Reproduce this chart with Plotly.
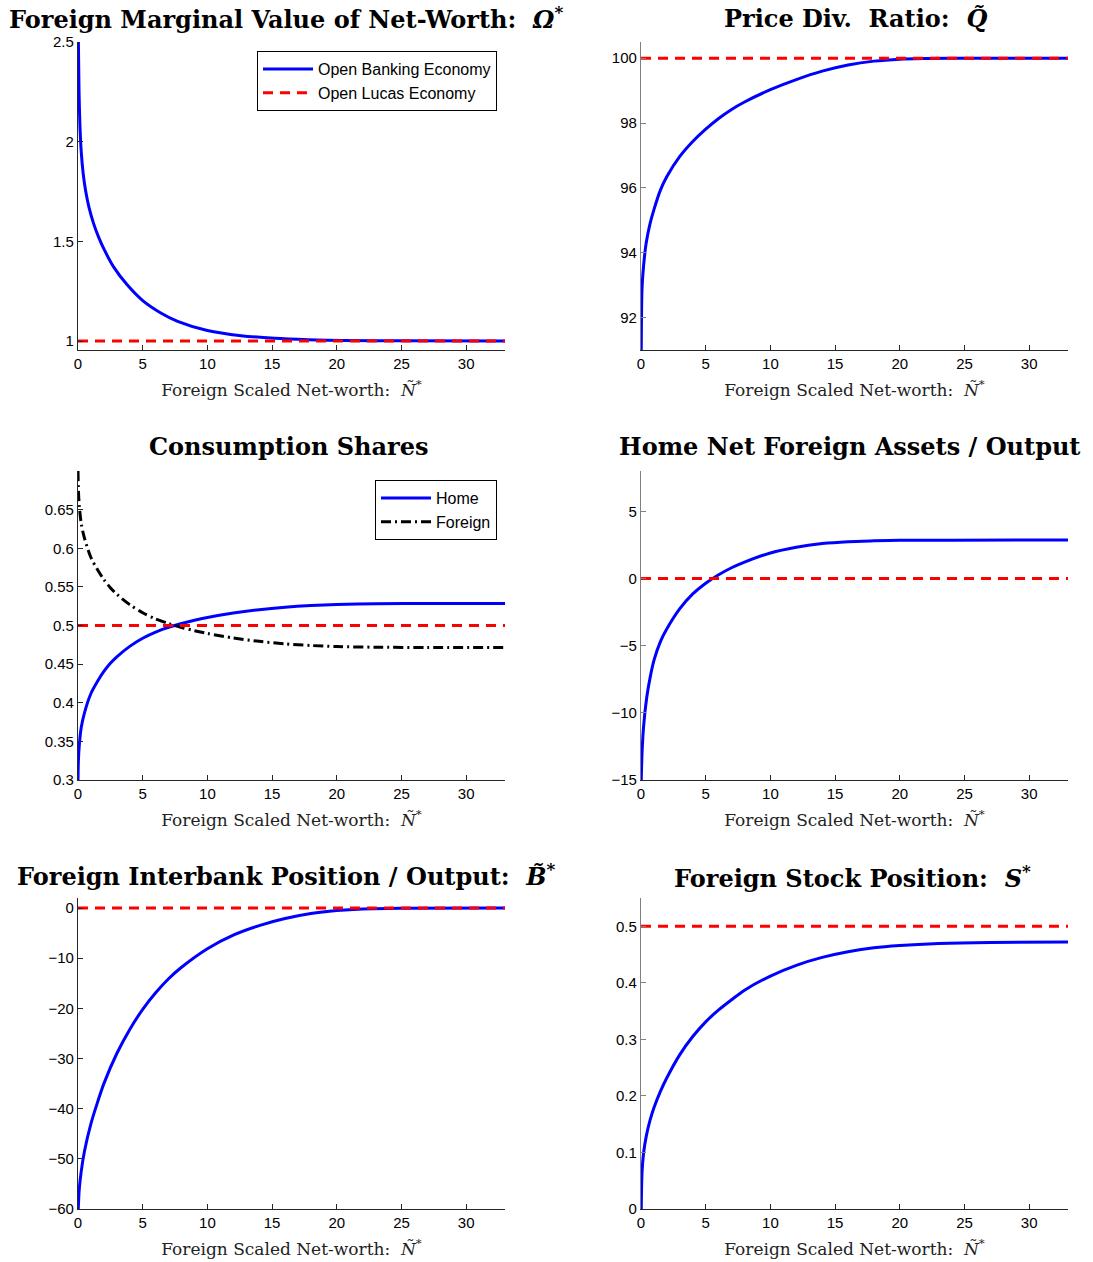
import plotly.graph_objects as go

# ---------------- data ----------------
x_range_max = 33
x_ticks = [0, 5, 10, 15, 20, 25, 30]

# Panel 1: Foreign marginal value of net-worth
omega_x = [0.03, 0.08, 0.15, 0.25, 0.4, 0.6, 0.85, 1.2, 1.6, 2.0, 2.75, 3.8, 5.0, 6.4, 7.7, 10.0, 12.6, 15.2, 17.8, 20.4, 25.0, 33.0]
omega_y = [2.5, 2.25, 2.08, 1.95, 1.84, 1.75, 1.67, 1.59, 1.52, 1.462, 1.372, 1.282, 1.203, 1.141, 1.099, 1.053, 1.027, 1.014, 1.007, 1.003, 1.001, 1.0]
omega_lucas = 1.0

# Panel 2: Price dividend ratio
q_x = [0.02, 0.08, 0.2, 0.4, 0.7, 1.0, 1.5, 2.0, 3.0, 4.0, 5.0, 6.0, 7.0, 8.0, 10.0, 12.0, 14.0, 16.0, 18.0, 20.0, 22.0, 25.0, 33.0]
q_y = [91.0, 92.9, 93.6, 94.3, 94.9, 95.33, 95.93, 96.35, 96.97, 97.43, 97.81, 98.14, 98.42, 98.65, 99.03, 99.34, 99.60, 99.79, 99.91, 99.97, 99.99, 100.0, 100.0]
q_lucas = 100.0

# Panel 3: Consumption shares
c_x = [0.0, 0.03, 0.1, 0.25, 0.5, 1.0, 1.5, 2.0, 2.5, 3.0, 4.0, 5.0, 6.0, 7.0, 8.0, 9.0, 10.0, 12.0, 14.0, 16.0, 18.0, 20.0, 23.0, 27.0, 33.0]
home_y = [0.300, 0.325, 0.345, 0.368, 0.387, 0.412, 0.4275, 0.4405, 0.451, 0.4595, 0.473, 0.4835, 0.4915, 0.4975, 0.5025, 0.5067, 0.5103, 0.5161, 0.5205, 0.5237, 0.5259, 0.5273, 0.5281, 0.5285, 0.5286]
foreign_y = [0.700, 0.675, 0.655, 0.632, 0.613, 0.588, 0.5725, 0.5595, 0.549, 0.5405, 0.527, 0.5165, 0.5085, 0.5025, 0.4975, 0.4933, 0.4897, 0.4839, 0.4795, 0.4763, 0.4741, 0.4727, 0.4719, 0.4715, 0.4714]
c_lucas = 0.5

# Panel 4: Home net foreign assets / output
nfa_x = [0.02, 0.08, 0.2, 0.45, 0.7, 1.0, 1.5, 2.0, 3.0, 4.0, 5.0, 6.0, 7.0, 8.0, 10.0, 12.0, 14.0, 16.0, 18.0, 20.0, 24.0, 33.0]
nfa_y = [-15.0, -13.0, -11.0, -8.8, -7.4, -6.1, -4.7, -3.75, -2.25, -1.15, -0.35, 0.28, 0.8, 1.22, 1.9, 2.33, 2.6, 2.74, 2.8, 2.84, 2.85, 2.86]
nfa_lucas = 0.0

# Panel 5: Foreign interbank position / output
b_x = [0.02, 0.1, 0.25, 0.5, 1.0, 1.5, 2.0, 3.0, 4.0, 5.0, 6.0, 7.0, 8.0, 10.0, 12.0, 14.0, 16.0, 18.0, 20.0, 22.0, 25.0, 33.0]
b_y = [-60.0, -56.0, -52.5, -48.5, -43.0, -38.8, -35.0, -29.0, -24.2, -20.2, -16.9, -14.1, -11.8, -8.1, -5.4, -3.5, -2.1, -1.1, -0.5, -0.17, -0.04, 0.0]
b_lucas = 0.0

# Panel 6: Foreign stock position
s_x = [0.02, 0.08, 0.2, 0.4, 0.7, 1.0, 1.5, 2.0, 3.0, 4.0, 5.0, 6.0, 7.0, 8.0, 10.0, 12.0, 14.0, 16.0, 18.0, 20.0, 23.0, 27.0, 33.0]
s_y = [0.0, 0.065, 0.099, 0.128, 0.157, 0.179, 0.208, 0.232, 0.273, 0.305, 0.331, 0.352, 0.370, 0.387, 0.412, 0.431, 0.445, 0.455, 0.462, 0.466, 0.4695, 0.4715, 0.472]
s_lucas = 0.5

titles = [
    "Foreign Marginal Value of Net-Worth:  <i>Ω</i><sup>*</sup>",
    "Price Div.  Ratio:  <i>Q̃</i>",
    "Consumption Shares",
    "Home Net Foreign Assets / Output",
    "Foreign Interbank Position / Output:  <i>B̃</i><sup>*</sup>",
    "Foreign Stock Position:  <i>S</i><sup>*</sup>",
]
xlabel = "Foreign Scaled Net-worth:  <i>Ñ</i><sup>*</sup>"

y_ranges = [[0.955, 2.5], [91.0, 100.5], [0.3, 0.7], [-15, 8], [-60, 2], [0, 0.55]]
y_ticks = [
    [1, 1.5, 2, 2.5],
    [92, 94, 96, 98, 100],
    [0.3, 0.35, 0.4, 0.45, 0.5, 0.55, 0.6, 0.65],
    [-15, -10, -5, 0, 5],
    [-60, -50, -40, -30, -20, -10, 0],
    [0, 0.1, 0.2, 0.3, 0.4, 0.5],
]

# ---------------- layout geometry ----------------
W, H = 1093, 1262
col_px = [(78, 505), (641, 1068)]
row_px = [(42, 350), (471, 780), (898, 1209)]

BLUE = "#0000ff"
RED = "#ff0000"
SANS = "Liberation Sans, Arial, sans-serif"
TICKFONT = dict(family=SANS, size=15, color="#000")
SERIF = "DejaVu Serif, serif"

fig = go.Figure()

series = [(omega_x, omega_y), (q_x, q_y), (c_x, home_y), (nfa_x, nfa_y), (b_x, b_y), (s_x, s_y)]
lucas = [omega_lucas, q_lucas, c_lucas, nfa_lucas, b_lucas, s_lucas]

for i in range(6):
    r, c = divmod(i, 2)
    sfx = "" if i == 0 else str(i + 1)
    xa, ya = "x" + sfx, "y" + sfx
    x0, x1 = col_px[c]
    y0, y1 = row_px[r]
    axcol = "#808080" if c == 1 else "#262626"
    fig.layout["xaxis" + sfx] = dict(
        domain=[x0 / W, x1 / W], anchor=ya, range=[0, x_range_max],
        tickvals=x_ticks, ticks="inside", ticklen=5, tickcolor="#262626",
        showline=True, linecolor="#262626", linewidth=1.3, showgrid=False,
        zeroline=False, tickfont=TICKFONT, automargin=False,
        title=dict(text=xlabel, font=dict(family=SERIF, size=17, color="#222"), standoff=12),
    )
    fig.layout["yaxis" + sfx] = dict(
        domain=[1 - y1 / H, 1 - y0 / H], anchor=xa, range=y_ranges[i],
        tickvals=y_ticks[i], ticks="inside", ticklen=5, tickcolor=axcol,
        showline=True, linecolor=axcol, linewidth=1.3, showgrid=False,
        zeroline=False, tickfont=TICKFONT, automargin=False,
    )
    sx, sy = series[i]
    fig.add_trace(go.Scatter(
        x=sx, y=sy, mode="lines",
        line=dict(color=BLUE, width=3, shape="spline", smoothing=0.8),
        name=("Open Banking Economy" if i == 0 else "Home"),
        showlegend=(i in (0, 2)), legend=("legend" if i == 0 else "legend2"),
        xaxis=xa, yaxis=ya,
    ))
    if i == 2:
        fig.add_trace(go.Scatter(
            x=c_x, y=foreign_y, mode="lines",
            line=dict(color="#000", width=3, dash="10px,4px,2px,4px", shape="spline", smoothing=0.8),
            name="Foreign", showlegend=True, legend="legend2",
            xaxis=xa, yaxis=ya,
        ))
    fig.add_trace(go.Scatter(
        x=[0, x_range_max], y=[lucas[i], lucas[i]], mode="lines",
        line=dict(color=RED, width=3, dash="10px,7px"),
        name="Open Lucas Economy", showlegend=(i == 0), legend="legend",
        xaxis=xa, yaxis=ya, hoverinfo="skip",
    ))

LEGFONT = dict(family=SANS, size=16, color="#000")
fig.layout.legend = dict(
    x=497 / W, y=1 - 51 / H, xanchor="right", yanchor="top",
    bordercolor="#000", borderwidth=1, bgcolor="#fff", font=LEGFONT,
    tracegroupgap=0, itemwidth=50,
)
fig.layout.legend2 = dict(
    x=497 / W, y=1 - 480 / H, xanchor="right", yanchor="top",
    bordercolor="#000", borderwidth=1, bgcolor="#fff", font=LEGFONT,
    tracegroupgap=0, itemwidth=50,
)

title_pos = [(286, 18), (855, 18), (288, 447), (849, 447), (286, 875), (852, 877)]
for t, (px, py) in zip(titles, title_pos):
    fig.add_annotation(
        text=t, x=px / W, y=1 - py / H, xref="paper", yref="paper",
        xanchor="center", yanchor="middle", showarrow=False,
        font=dict(family=SERIF, size=24, color="#000", weight="bold"),
    )

fig.update_layout(
    width=W, height=H, margin=dict(l=0, r=0, t=0, b=0, autoexpand=False),
    paper_bgcolor="#fff", plot_bgcolor="#fff", showlegend=True,
)

fig.write_html("out.html", config={"displayModeBar": False},
               post_script="document.body.style.margin='0';")
